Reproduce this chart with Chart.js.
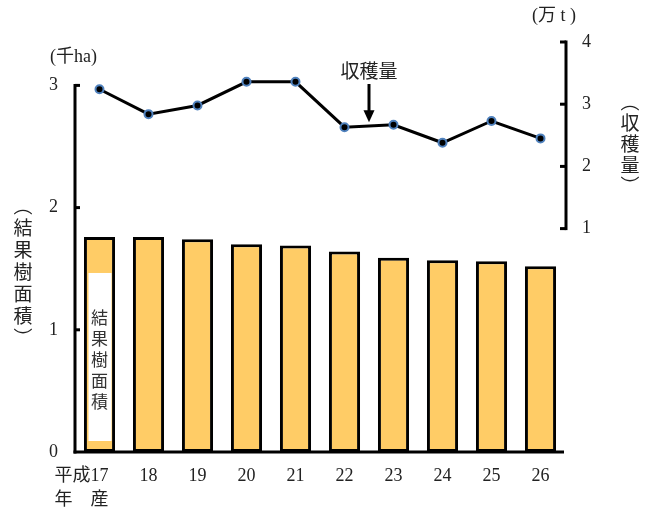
<!DOCTYPE html>
<html>
<head>
<meta charset="utf-8">
<script src="https://cdn.jsdelivr.net/npm/chart.js@4.4.0/dist/chart.umd.min.js"></script>
<style>
  html, body { margin: 0; padding: 0; background: #fff; }
  #wrap { width: 652px; height: 511px; position: relative; }
</style>
</head>
<body>
<div id="wrap"><canvas id="chart"></canvas></div>
<script>
// ---- data ----
const years = [["平成17　　", "年　産　　"], "18", "19", "20", "21", "22", "23", "24", "25", "26"];
const areaValues = [1.76, 1.76, 1.74, 1.70, 1.69, 1.64, 1.59, 1.57, 1.56, 1.52];     // 千ha
const harvestValues = [3.24, 2.84, 2.98, 3.36, 3.36, 2.63, 2.67, 2.38, 2.73, 2.45];  // 万t
const leftTicks = [0, 1, 2, 3];
const rightTicks = [1, 2, 3, 4];

const TEXT = '#222';
const SERIF = "'Liberation Serif', 'Noto Sans CJK JP', serif";
const CJK = "'Noto Sans CJK JP', sans-serif";

Chart.defaults.font.family = SERIF;
Chart.defaults.font.size = 18;
Chart.defaults.color = TEXT;

// draw a string one character under another
function verticalText(ctx, chars, x, y0, step) {
    chars.forEach((ch, i) => ctx.fillText(ch, x, y0 + i * step));
}

// axis lines, inward ticks, labels and the note in the first bar
const decorPlugin = {
    id: 'decor',
    afterDatasetsDraw(chart) {
        const ctx = chart.ctx;
        const xs = chart.scales.x, ys = chart.scales.y, ys1 = chart.scales.y1;
        const left = chart.chartArea.left, right = chart.chartArea.right + 1;
        const bottom = ys.getPixelForValue(0);
        ctx.save();

        // note box inside the first bar
        const bx = xs.getPixelForValue(0);
        const boxTop = ys.getPixelForValue(1.465), boxBottom = ys.getPixelForValue(0.09);
        ctx.fillStyle = '#fff';
        ctx.fillRect(bx - 11, boxTop, 23, boxBottom - boxTop);
        ctx.fillStyle = '#333';
        ctx.font = '17px ' + CJK;
        ctx.textAlign = 'center';
        ctx.textBaseline = 'middle';
        verticalText(ctx, ['結', '果', '樹', '面', '積'], bx, 318, 21);

        ctx.strokeStyle = '#000';
        ctx.lineWidth = 3;
        // left axis
        ctx.beginPath();
        ctx.moveTo(left, bottom + 1.5);
        ctx.lineTo(left, ys.getPixelForValue(3) - 1.5);
        ctx.stroke();
        leftTicks.forEach(v => {
            if (v === 0) return;
            const py = ys.getPixelForValue(v);
            ctx.beginPath(); ctx.moveTo(left, py); ctx.lineTo(left + 5, py); ctx.stroke();
        });
        // right axis
        ctx.beginPath();
        ctx.moveTo(right, ys1.getPixelForValue(1) + 1.5);
        ctx.lineTo(right, ys1.getPixelForValue(4) - 1.5);
        ctx.stroke();
        rightTicks.forEach(v => {
            const py = ys1.getPixelForValue(v);
            ctx.beginPath(); ctx.moveTo(right, py); ctx.lineTo(right - 6, py); ctx.stroke();
        });
        // category axis
        ctx.beginPath();
        ctx.moveTo(left - 1.5, bottom);
        ctx.lineTo(right - 2, bottom);
        ctx.stroke();

        // unit labels
        ctx.fillStyle = TEXT;
        ctx.font = '18px ' + SERIF;
        ctx.textAlign = 'left';
        ctx.fillText('(千ha)', 50, 57);
        ctx.fillText('(万 t )', 532, 16);

        // axis titles, written vertically
        ctx.textAlign = 'center';
        ctx.font = '19px ' + CJK;
        verticalText(ctx, ['︵', '結', '果', '樹', '面', '積', '︶'], 23, 206, 22);
        verticalText(ctx, ['︵', '収', '穫', '量', '︶'], 630, 102, 21);

        // series note with arrow
        const ax = xs.getPixelForValue(5.5);
        ctx.fillText('収穫量', ax, 71);
        const tipY = ys1.getPixelForValue(2.71);
        ctx.lineWidth = 3;
        ctx.beginPath(); ctx.moveTo(ax, 84); ctx.lineTo(ax, tipY - 10); ctx.stroke();
        ctx.fillStyle = '#000';
        ctx.beginPath();
        ctx.moveTo(ax - 5.5, tipY - 12);
        ctx.lineTo(ax + 5.5, tipY - 12);
        ctx.lineTo(ax, tipY);
        ctx.closePath();
        ctx.fill();

        ctx.restore();
    }
};

new Chart(document.getElementById('chart'), {
    type: 'bar',
    data: {
        labels: years,
        datasets: [
            {
                type: 'line',
                label: '収穫量',
                data: harvestValues,
                yAxisID: 'y1',
                borderColor: '#000',
                borderWidth: 3,
                pointRadius: 4,
                pointBorderWidth: 2,
                pointBackgroundColor: '#000',
                pointBorderColor: '#4F81BD',
                tension: 0,
                order: 0
            },
            {
                label: '結果樹面積',
                data: areaValues,
                yAxisID: 'y',
                backgroundColor: '#FFCC66',
                borderColor: '#000',
                borderWidth: 3,
                borderSkipped: false,
                barPercentage: 0.635,
                categoryPercentage: 1,
                order: 1
            }
        ]
    },
    options: {
        responsive: true,
        maintainAspectRatio: false,
        animation: false,
        layout: { padding: { top: 42, left: 0, right: 0, bottom: 0 } },
        plugins: {
            legend: { display: false },
            tooltip: { enabled: false }
        },
        scales: {
            x: {
                grid: { display: false, drawTicks: false },
                border: { display: false },
                ticks: {
                    autoSkip: false,
                    maxRotation: 0,
                    padding: 13,
                    font: { size: 18, lineHeight: 1.3 }
                },
                afterFit: (s) => { s.height = 59; }
            },
            y: {
                position: 'left',
                min: 0,
                max: 410 / 122.2,
                grid: { display: false, drawTicks: false },
                border: { display: false },
                ticks: { padding: 17, font: { size: 18 } },
                afterBuildTicks: (s) => { s.ticks = leftTicks.map(v => ({ value: v })); },
                afterFit: (s) => { s.width = 75; }
            },
            y1: {
                position: 'right',
                min: 4 - 410 / 62.2,
                max: 4,
                grid: { display: false, drawTicks: false },
                border: { display: false },
                ticks: { padding: 17, font: { size: 18 } },
                afterBuildTicks: (s) => { s.ticks = rightTicks.map(v => ({ value: v })); },
                afterFit: (s) => { s.width = 87; }
            }
        }
    },
    plugins: [decorPlugin]
});
</script>
</body>
</html>
